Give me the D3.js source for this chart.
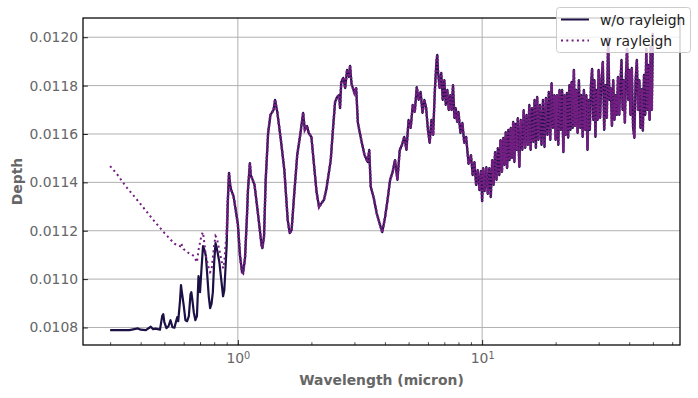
<!DOCTYPE html>
<html>
<head>
<meta charset="utf-8">
<script src="https://cdn.jsdelivr.net/npm/d3@7"></script>
<style>
  body { margin: 0; background: #fff; }
  svg { display: block; font-family: "DejaVu Sans", sans-serif; }
</style>
</head>
<body>
<div id="chart"></div>
<script>
// Transit depth spectrum, with and without rayleigh scattering

// shared wavelength grid (micron) for the "w/o rayleigh" spectrum
const wavelengths = [
    0.30, 0.36, 0.39, 0.40, 0.42, 0.44, 0.45, 0.46, 0.48, 0.49,
    0.495, 0.50, 0.51, 0.52, 0.53, 0.54, 0.55, 0.56, 0.565, 0.57,
    0.58, 0.585, 0.59, 0.60, 0.61, 0.62, 0.63, 0.64, 0.645, 0.65,
    0.66, 0.67, 0.68, 0.69, 0.70, 0.71, 0.72, 0.73, 0.74, 0.76,
    0.77, 0.78, 0.79, 0.80, 0.81, 0.82, 0.84, 0.86, 0.87, 0.88,
    0.89, 0.90, 0.91, 0.92, 0.93, 0.94, 0.96, 0.98, 1.00, 1.02,
    1.04, 1.05, 1.07, 1.09, 1.10, 1.12, 1.13, 1.15, 1.17, 1.20,
    1.25, 1.26, 1.28, 1.30, 1.33, 1.36, 1.40, 1.42, 1.45, 1.50,
    1.55, 1.60, 1.63, 1.66, 1.70, 1.75, 1.80, 1.85, 1.88, 1.92,
    1.95, 2.00, 2.10, 2.15, 2.20, 2.25, 2.30, 2.40, 2.45, 2.50,
    2.55, 2.60, 2.62, 2.65, 2.70, 2.75, 2.80, 2.85, 2.88, 2.92,
    3.00, 3.05, 3.10, 3.20, 3.30, 3.40, 3.45, 3.50, 3.60, 3.70,
    3.80, 3.90, 4.00, 4.10, 4.20, 4.30, 4.40, 4.50, 4.60, 4.70,
    4.80, 4.90, 5.00, 5.10, 5.20, 5.30, 5.40, 5.50, 5.60, 5.70,
    5.80, 5.90, 6.00, 6.10, 6.20, 6.30, 6.40, 6.50, 6.55, 6.60,
    6.70, 6.80, 6.90, 7.00, 7.10, 7.20, 7.30, 7.40, 7.50, 7.60,
    7.70, 7.80, 7.90, 8.00, 8.15, 8.30, 8.45, 8.60, 8.80, 9.00,
    9.15, 9.30, 9.45, 9.60, 9.75, 9.90, 10.0, 10.1, 10.25, 10.4,
    10.55, 10.7, 10.85, 11.0, 11.15, 11.3, 11.45, 11.6, 11.75, 11.9,
    12.05, 12.2, 12.35, 12.5, 12.65, 12.8, 12.95, 13.1, 13.25, 13.4,
    13.55, 13.7, 13.85, 14.0, 14.2, 14.4, 14.6, 14.8, 15.0, 15.2,
    15.4, 15.6, 15.8, 16.0, 16.2, 16.4, 16.6, 16.8, 17.0, 17.25,
    17.5, 17.75, 18.0, 18.25, 18.5, 18.75, 19.0, 19.25, 19.5, 19.75,
    20.0, 20.25, 20.5, 20.75, 21.0, 21.25, 21.5, 21.75, 22.0, 22.25,
    22.5, 22.75, 23.0, 23.25, 23.5, 23.75, 24.0, 24.3, 24.6, 24.9,
    25.2, 25.5, 25.8, 26.1, 26.4, 26.7, 27.0, 27.3, 27.6, 27.9,
    28.2, 28.5, 28.8, 29.1, 29.4, 29.7, 30.0, 30.4, 30.8, 31.2,
    31.6, 32.0, 32.4, 32.8, 33.2, 33.6, 34.0, 34.4, 34.8, 35.2,
    35.6, 36.0, 36.4, 36.8, 37.2, 37.6, 38.0, 38.4, 38.8, 39.2,
    39.6, 40.0, 40.5, 41.0, 41.5, 42.0, 42.5, 43.0, 43.5, 44.0,
    44.5, 45.0, 45.5, 46.0, 46.5, 47.0, 47.5, 48.0, 48.5, 49.0,
    49.5, 50.0
];

// depth without rayleigh scattering
const depthNoRayleigh = [
    0.010789, 0.010789, 0.010796, 0.010791, 0.010789, 0.010803, 0.010793, 0.010795, 0.010791, 0.010847,
    0.010855, 0.010822, 0.010797, 0.010805, 0.010830, 0.010801, 0.010799, 0.010830, 0.010843, 0.010826,
    0.010913, 0.010975, 0.010946, 0.010892, 0.010830, 0.010826, 0.010847, 0.010938, 0.010946, 0.010921,
    0.010863, 0.010830, 0.010847, 0.011012, 0.010946, 0.011045, 0.011136, 0.011120, 0.011095, 0.010929,
    0.010880, 0.010897, 0.010946, 0.011070, 0.011149, 0.011128, 0.011070, 0.010975, 0.010929, 0.010954,
    0.011045, 0.011141, 0.011327, 0.011439, 0.011389, 0.011368, 0.011343, 0.011285, 0.011227, 0.011099,
    0.011029, 0.011025, 0.011087, 0.011265, 0.011368, 0.011480, 0.011430, 0.011410, 0.011389, 0.011298,
    0.011141, 0.011128, 0.011178, 0.011410, 0.011604, 0.011679, 0.011699, 0.011741, 0.011691, 0.011575,
    0.011451, 0.011244, 0.011190, 0.011203, 0.011348, 0.011513, 0.011596, 0.011687, 0.011617, 0.011633,
    0.011604, 0.011588, 0.011360, 0.011298, 0.011314, 0.011327, 0.011368, 0.011492, 0.011617, 0.011732,
    0.011753, 0.011761, 0.011707, 0.011815, 0.011832, 0.011790, 0.011865, 0.011836, 0.011882, 0.011807,
    0.011770, 0.011790, 0.011646, 0.011575, 0.011513, 0.011484, 0.011534, 0.011381, 0.011335, 0.011273,
    0.011232, 0.011194, 0.011252, 0.011327, 0.011410, 0.011443, 0.011492, 0.011410, 0.011534, 0.011555,
    0.011588, 0.011534, 0.011658, 0.011625, 0.011720, 0.011691, 0.011794, 0.011741, 0.011774, 0.011687,
    0.011741, 0.011707, 0.011617, 0.011563, 0.011658, 0.011596, 0.011774, 0.011898, 0.011927, 0.011856,
    0.011790, 0.011853, 0.011741, 0.011823, 0.011720, 0.011782, 0.011699, 0.011761, 0.011699, 0.011802,
    0.011666, 0.011707, 0.011650, 0.011691, 0.011604, 0.011646, 0.011563, 0.011588, 0.011476, 0.011513,
    0.011430, 0.011484, 0.011389, 0.011451, 0.011368, 0.011447, 0.011322, 0.011459, 0.011364, 0.011463,
    0.011352, 0.011459, 0.011339, 0.011492, 0.011389, 0.011525, 0.011410, 0.011542, 0.011430, 0.011575,
    0.011443, 0.011584, 0.011472, 0.011608, 0.011459, 0.011617, 0.011492, 0.011625, 0.011501, 0.011650,
    0.011484, 0.011642, 0.011534, 0.011666, 0.011464, 0.011658, 0.011534, 0.011699, 0.011542, 0.011679,
    0.011555, 0.011720, 0.011534, 0.011707, 0.011567, 0.011741, 0.011542, 0.011753, 0.011575, 0.011720,
    0.011555, 0.011741, 0.011546, 0.011749, 0.011596, 0.011774, 0.011575, 0.011810, 0.011625, 0.011761,
    0.011575, 0.011761, 0.011555, 0.011782, 0.011617, 0.011782, 0.011525, 0.011761, 0.011596, 0.011770,
    0.011584, 0.011802, 0.011617, 0.011815, 0.011625, 0.011865, 0.011633, 0.011782, 0.011604, 0.011823,
    0.011625, 0.011761, 0.011588, 0.011782, 0.011617, 0.011761, 0.011534, 0.011741, 0.011617, 0.011802,
    0.011869, 0.011658, 0.011823, 0.011588, 0.011782, 0.011658, 0.011865, 0.011666, 0.011823, 0.011898,
    0.011617, 0.011802, 0.011666, 0.011996, 0.011741, 0.011790, 0.011633, 0.011823, 0.011658, 0.011761,
    0.011679, 0.011836, 0.011679, 0.011802, 0.011906, 0.011699, 0.011823, 0.011646, 0.011844, 0.011952,
    0.011741, 0.011865, 0.011679, 0.011873, 0.011625, 0.011584, 0.011823, 0.011906, 0.011699, 0.011823,
    0.011625, 0.011786, 0.011613, 0.011844, 0.011679, 0.011952, 0.011699, 0.011886, 0.011658, 0.011961,
    0.011699, 0.012018
];

// short-wavelength part of the "w rayleigh" spectrum (above 0.9 micron it matches the other one)
const rayleighWavelengths = [
    0.30, 0.32, 0.35, 0.40, 0.45, 0.50, 0.55, 0.58, 0.585, 0.60,
    0.63, 0.645, 0.66, 0.68, 0.69, 0.71, 0.72, 0.74, 0.76, 0.77,
    0.78, 0.80, 0.81, 0.82, 0.84, 0.86, 0.87, 0.88, 0.89, 0.90
];
const rayleighDepths = [
    0.011467, 0.011434, 0.011380, 0.011310, 0.011245, 0.011191, 0.011146, 0.011136, 0.011149, 0.011124,
    0.011107, 0.011103, 0.011095, 0.011070, 0.011120, 0.011182, 0.011194, 0.011095, 0.011045, 0.011029,
    0.011037, 0.011141, 0.011178, 0.011170, 0.011120, 0.011070, 0.011045, 0.011070, 0.011141, 0.011182
];

const seriesNames = ['w/o rayleigh', 'w rayleigh'];
const yTicks = [0.0108, 0.0110, 0.0112, 0.0114, 0.0116, 0.0118, 0.0120];
const xMajorTicks = [1, 10];
const xMinorTicks = [0.3, 0.4, 0.5, 0.6, 0.7, 0.8, 0.9, 2, 3, 4, 5, 6, 7, 8, 9, 20, 30, 40, 50, 60];

// layout
const width = 698, height = 398;
const margin = { top: 18, right: 18, bottom: 53, left: 83 };
const plotW = width - margin.left - margin.right;
const plotH = height - margin.top - margin.bottom;
const textColor = '#666666';
const fontSize = 13.9;
const darkColor = '#1c1044';
const purpleColor = '#721f81';

// build the two series
const noRayleigh = wavelengths.map((w, i) => ({ w: w, d: depthNoRayleigh[i] }));
const rayleighOnly = rayleighWavelengths.map((w, i) => ({ w: w, d: rayleighDepths[i] }));
const shared = noRayleigh.filter(p => p.w > 0.9);
const withRayleigh = rayleighOnly.concat(shared);

// matplotlib style 5% margins (log on x)
const allW = noRayleigh.map(p => p.w);
const allD = noRayleigh.concat(withRayleigh).map(p => p.d);
const lw0 = Math.log10(d3.min(allW)), lw1 = Math.log10(d3.max(allW));
const padW = (lw1 - lw0) * 0.05;
const d0 = d3.min(allD), d1 = d3.max(allD);
const padD = (d1 - d0) * 0.05;

const x = d3.scaleLog()
    .domain([Math.pow(10, lw0 - padW), Math.pow(10, lw1 + padW)])
    .range([0, plotW]);
const y = d3.scaleLinear()
    .domain([d0 - padD, d1 + padD])
    .range([plotH, 0]);

const svg = d3.select('#chart')
    .append('svg')
    .attr('width', width)
    .attr('height', height);

svg.append('defs').append('clipPath')
    .attr('id', 'plot-clip')
    .append('rect')
    .attr('width', plotW)
    .attr('height', plotH);

const g = svg.append('g')
    .attr('transform', `translate(${margin.left},${margin.top})`);

// grid
const grid = g.append('g').attr('class', 'grid');
grid.selectAll('line.gy')
    .data(yTicks)
    .enter().append('line')
    .attr('x1', 0).attr('x2', plotW)
    .attr('y1', d => y(d)).attr('y2', d => y(d))
    .attr('stroke', '#b0b0b0')
    .attr('stroke-width', 1);
grid.selectAll('line.gx')
    .data(xMajorTicks)
    .enter().append('line')
    .attr('x1', d => x(d)).attr('x2', d => x(d))
    .attr('y1', 0).attr('y2', plotH)
    .attr('stroke', '#b0b0b0')
    .attr('stroke-width', 1);

// lines
const line = d3.line()
    .x(p => x(p.w))
    .y(p => y(p.d));

const lines = g.append('g').attr('clip-path', 'url(#plot-clip)');

lines.append('path')
    .datum(noRayleigh)
    .attr('fill', 'none')
    .attr('stroke', darkColor)
    .attr('stroke-width', 2.2)
    .attr('stroke-linejoin', 'round')
    .attr('d', line);

// dotted rayleigh curve; where it lies on top of the noisy spectrum
// the dots pack tightly, so that part gets a denser pattern
lines.append('path')
    .datum(rayleighOnly.concat(shared.slice(0, 1)))
    .attr('fill', 'none')
    .attr('stroke', purpleColor)
    .attr('stroke-width', 2)
    .attr('stroke-dasharray', '2 3.3')
    .attr('d', line);

lines.append('path')
    .datum(rayleighOnly.slice(-1).concat(shared))
    .attr('fill', 'none')
    .attr('stroke', purpleColor)
    .attr('stroke-width', 2.6)
    .attr('stroke-dasharray', '2.2 1.4')
    .attr('d', line);

// axes (ticks point inward)
const yAxis = d3.axisLeft(y)
    .tickValues(yTicks)
    .tickFormat(d3.format('.4f'))
    .tickSizeInner(-4.9)
    .tickSizeOuter(0)
    .tickPadding(4.9);

const yG = g.append('g').call(yAxis);
yG.select('.domain').remove();
yG.selectAll('.tick line').attr('stroke', '#222');
yG.selectAll('.tick text')
    .attr('fill', textColor)
    .attr('font-size', fontSize)
    .attr('font-family', '"DejaVu Sans", sans-serif');

const xAxis = d3.axisBottom(x)
    .tickValues(xMajorTicks)
    .tickFormat('')
    .tickSizeInner(-4.9)
    .tickSizeOuter(0)
    .tickPadding(8.5);

const xG = g.append('g')
    .attr('transform', `translate(0,${plotH})`)
    .call(xAxis);
xG.select('.domain').remove();
xG.selectAll('.tick line').attr('stroke', '#222');
xG.selectAll('.tick text')
    .attr('fill', textColor)
    .attr('font-size', fontSize)
    .attr('font-family', '"DejaVu Sans", sans-serif')
    .each(function(d) {
        const t = d3.select(this);
        t.text(null);
        t.append('tspan').text('10');
        t.append('tspan')
            .attr('dy', '-0.42em')
            .attr('font-size', fontSize * 0.7)
            .text(Math.round(Math.log10(d)));
    });

const xMinor = d3.axisBottom(x)
    .tickValues(xMinorTicks)
    .tickFormat('')
    .tickSizeInner(-2.8)
    .tickSizeOuter(0);

const xmG = g.append('g')
    .attr('transform', `translate(0,${plotH})`)
    .call(xMinor);
xmG.select('.domain').remove();
xmG.selectAll('.tick line').attr('stroke', '#222').attr('stroke-width', 0.8);

// frame
g.append('rect')
    .attr('width', plotW)
    .attr('height', plotH)
    .attr('fill', 'none')
    .attr('stroke', '#000')
    .attr('stroke-width', 1.25);

// axis labels
svg.append('text')
    .attr('x', margin.left + plotW / 2)
    .attr('y', 384.5)
    .attr('text-anchor', 'middle')
    .attr('font-size', fontSize)
    .attr('font-weight', 'bold')
    .attr('fill', textColor)
    .text('Wavelength (micron)');

svg.append('text')
    .attr('transform', `translate(21.5,${margin.top + plotH / 2}) rotate(-90)`)
    .attr('text-anchor', 'middle')
    .attr('font-size', fontSize)
    .attr('font-weight', 'bold')
    .attr('fill', textColor)
    .text('Depth');

// legend
const legend = svg.append('g');
legend.append('rect')
    .attr('x', 556.5).attr('y', 7.5)
    .attr('width', 134).attr('height', 45)
    .attr('rx', 3)
    .attr('fill', '#fff')
    .attr('fill-opacity', 0.8)
    .attr('stroke', '#cccccc');

const legendStyles = [
    { color: darkColor, dash: null },
    { color: purpleColor, dash: '2 3.3' }
];

seriesNames.forEach((name, i) => {
    const cy = 19.5 + i * 21;
    legend.append('line')
        .attr('x1', 561).attr('x2', 589)
        .attr('y1', cy).attr('y2', cy)
        .attr('stroke', legendStyles[i].color)
        .attr('stroke-width', 2)
        .attr('stroke-dasharray', legendStyles[i].dash);
    legend.append('text')
        .attr('x', 600)
        .attr('y', cy + 5)
        .attr('font-size', fontSize)
        .attr('fill', '#222')
        .text(name);
});
</script>
</body>
</html>
